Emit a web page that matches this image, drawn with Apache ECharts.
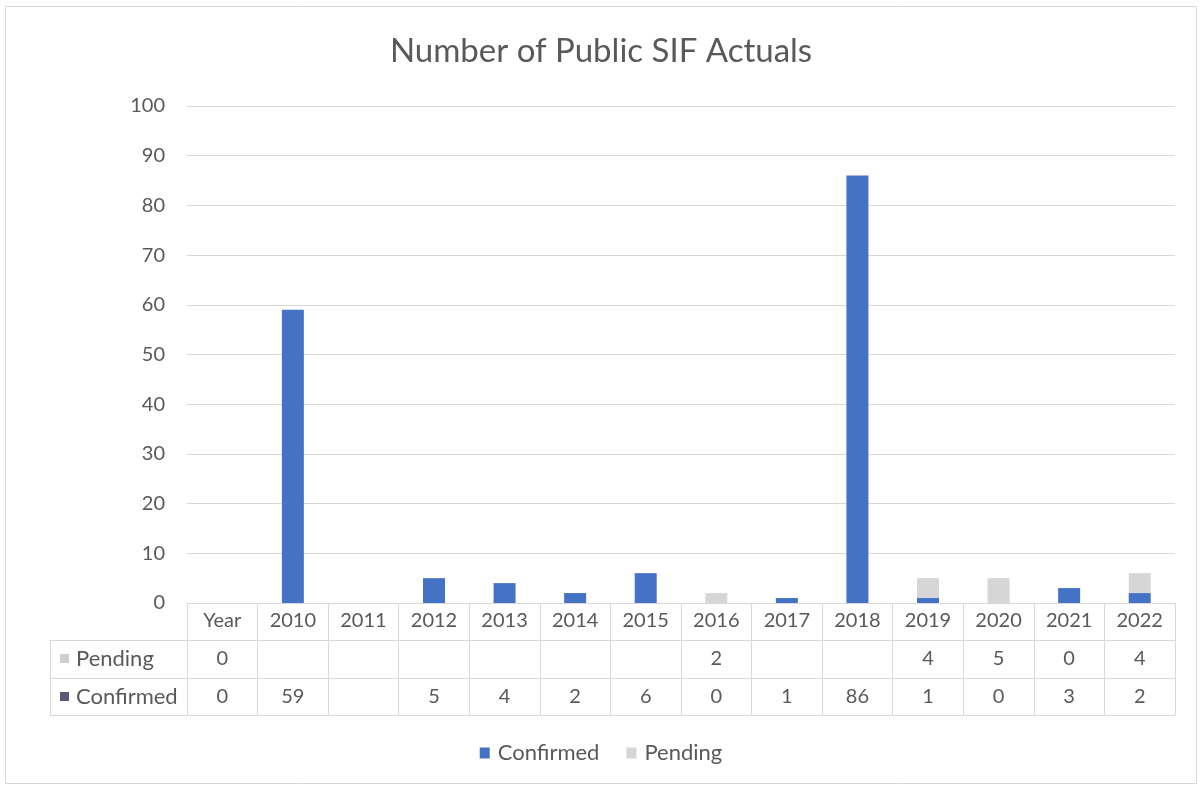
<!DOCTYPE html>
<html>
<head>
<meta charset="utf-8">
<script src="https://cdn.jsdelivr.net/npm/echarts@6/dist/echarts.min.js"></script>
<style>
  html, body { margin: 0; padding: 0; background: #fff; }
  #chart { width: 1202px; height: 787px; }
</style>
</head>
<body>
<div id="chart"></div>
<script>
const categories = ["Year", "2010", "2011", "2012", "2013", "2014", "2015", "2016", "2017", "2018", "2019", "2020", "2021", "2022"];
const confirmed = [0, 59, null, 5, 4, 2, 6, 0, 1, 86, 1, 0, 3, 2];
const pending   = [0, null, null, null, null, null, null, 2, null, null, 4, 5, 0, 4];
const yTicks = { min: 0, max: 100, interval: 10 };

const FONT = 'Lato';
const TXT = '#595959';
const LINE = '#D9D9D9';
const BLUE = '#4472C4';
const GRAY = '#D6D6D6';
const NUM_FS = 20;
const WORD_FS = 22;

const chart = echarts.init(document.getElementById('chart'), null, { renderer: 'canvas' });

function rowAxis(offset, values) {
  return {
    type: 'category',
    data: categories,
    position: 'bottom',
    offset: offset,
    axisLine: { show: true, lineStyle: { color: LINE, width: 1 } },
    axisTick: { show: false },
    axisLabel: {
      show: values !== null,
      interval: 0,
      margin: 9,
      fontFamily: FONT,
      fontSize: NUM_FS,
      color: TXT,
      formatter: function (v, i) {
        if (!values) return '';
        const x = values[i];
        return (x === null || x === undefined) ? '' : String(x);
      }
    },
    splitLine: { show: false }
  };
}

const option = {
  backgroundColor: '#fff',
  animation: false,
  textStyle: { fontFamily: FONT },
  title: {
    text: 'Number of Public SIF Actuals',
    left: 'center',
    top: 30,
    textStyle: { fontFamily: FONT, fontSize: 33, fontWeight: 'normal', color: TXT }
  },
  legend: {
    bottom: 18,
    left: 'center',
    icon: 'rect',
    itemWidth: 10,
    itemHeight: 11,
    itemGap: 27,
    textStyle: { fontFamily: FONT, fontSize: WORD_FS, color: TXT, padding: [0, 0, 0, 3] },
    data: ['Confirmed', 'Pending']
  },
  grid: { left: 187, right: 27, top: 106, bottom: 184, containLabel: false },
  xAxis: [
    {
      type: 'category',
      data: categories,
      position: 'bottom',
      axisLine: { show: true, lineStyle: { color: LINE, width: 1 } },
      axisTick: { show: true, interval: 0, length: 112, lineStyle: { color: LINE, width: 1 } },
      axisLabel: { interval: 0, margin: 8, fontFamily: FONT, fontSize: NUM_FS, color: TXT },
      splitLine: { show: false }
    },
    rowAxis(37, pending),
    rowAxis(75, confirmed),
    rowAxis(112, null)
  ],
  yAxis: {
    type: 'value',
    min: yTicks.min,
    max: yTicks.max,
    interval: yTicks.interval,
    axisLine: { show: false },
    axisTick: { show: false },
    axisLabel: { margin: 22, fontFamily: FONT, fontSize: NUM_FS, color: TXT },
    splitLine: { lineStyle: { color: LINE, width: 1 } }
  },
  series: [
    {
      name: 'Confirmed',
      type: 'bar',
      stack: 'total',
      xAxisIndex: 0,
      barWidth: 22,
      itemStyle: { color: BLUE },
      data: confirmed
    },
    {
      name: 'Pending',
      type: 'bar',
      stack: 'total',
      xAxisIndex: 0,
      barWidth: 22,
      itemStyle: { color: GRAY },
      data: pending
    }
  ],
  graphic: [
    { type: 'rect', shape: { x: 5.5, y: 6.5, width: 1191, height: 777 }, style: { fill: 'none', stroke: LINE, lineWidth: 1 }, silent: true },
    { type: 'line', shape: { x1: 50, y1: 640.5, x2: 187, y2: 640.5 }, style: { stroke: LINE, lineWidth: 1 } },
    { type: 'line', shape: { x1: 50, y1: 678.5, x2: 187, y2: 678.5 }, style: { stroke: LINE, lineWidth: 1 } },
    { type: 'line', shape: { x1: 50, y1: 715.5, x2: 187, y2: 715.5 }, style: { stroke: LINE, lineWidth: 1 } },
    { type: 'line', shape: { x1: 50.5, y1: 640, x2: 50.5, y2: 716 }, style: { stroke: LINE, lineWidth: 1 } },
    { type: 'rect', shape: { x: 60, y: 654, width: 9, height: 9 }, style: { fill: '#CFCFCF' } },
    { type: 'text', x: 76, y: 659, style: { text: 'Pending', fontFamily: FONT, fontSize: WORD_FS, fill: TXT, textVerticalAlign: 'middle', textAlign: 'left' } },
    { type: 'rect', shape: { x: 60, y: 692, width: 9, height: 9 }, style: { fill: '#5A5A78' } },
    { type: 'text', x: 76, y: 697, style: { text: 'Confirmed', fontFamily: FONT, fontSize: WORD_FS, fill: TXT, textVerticalAlign: 'middle', textAlign: 'left' } }
  ]
};

chart.setOption(option);
</script>
</body>
</html>
